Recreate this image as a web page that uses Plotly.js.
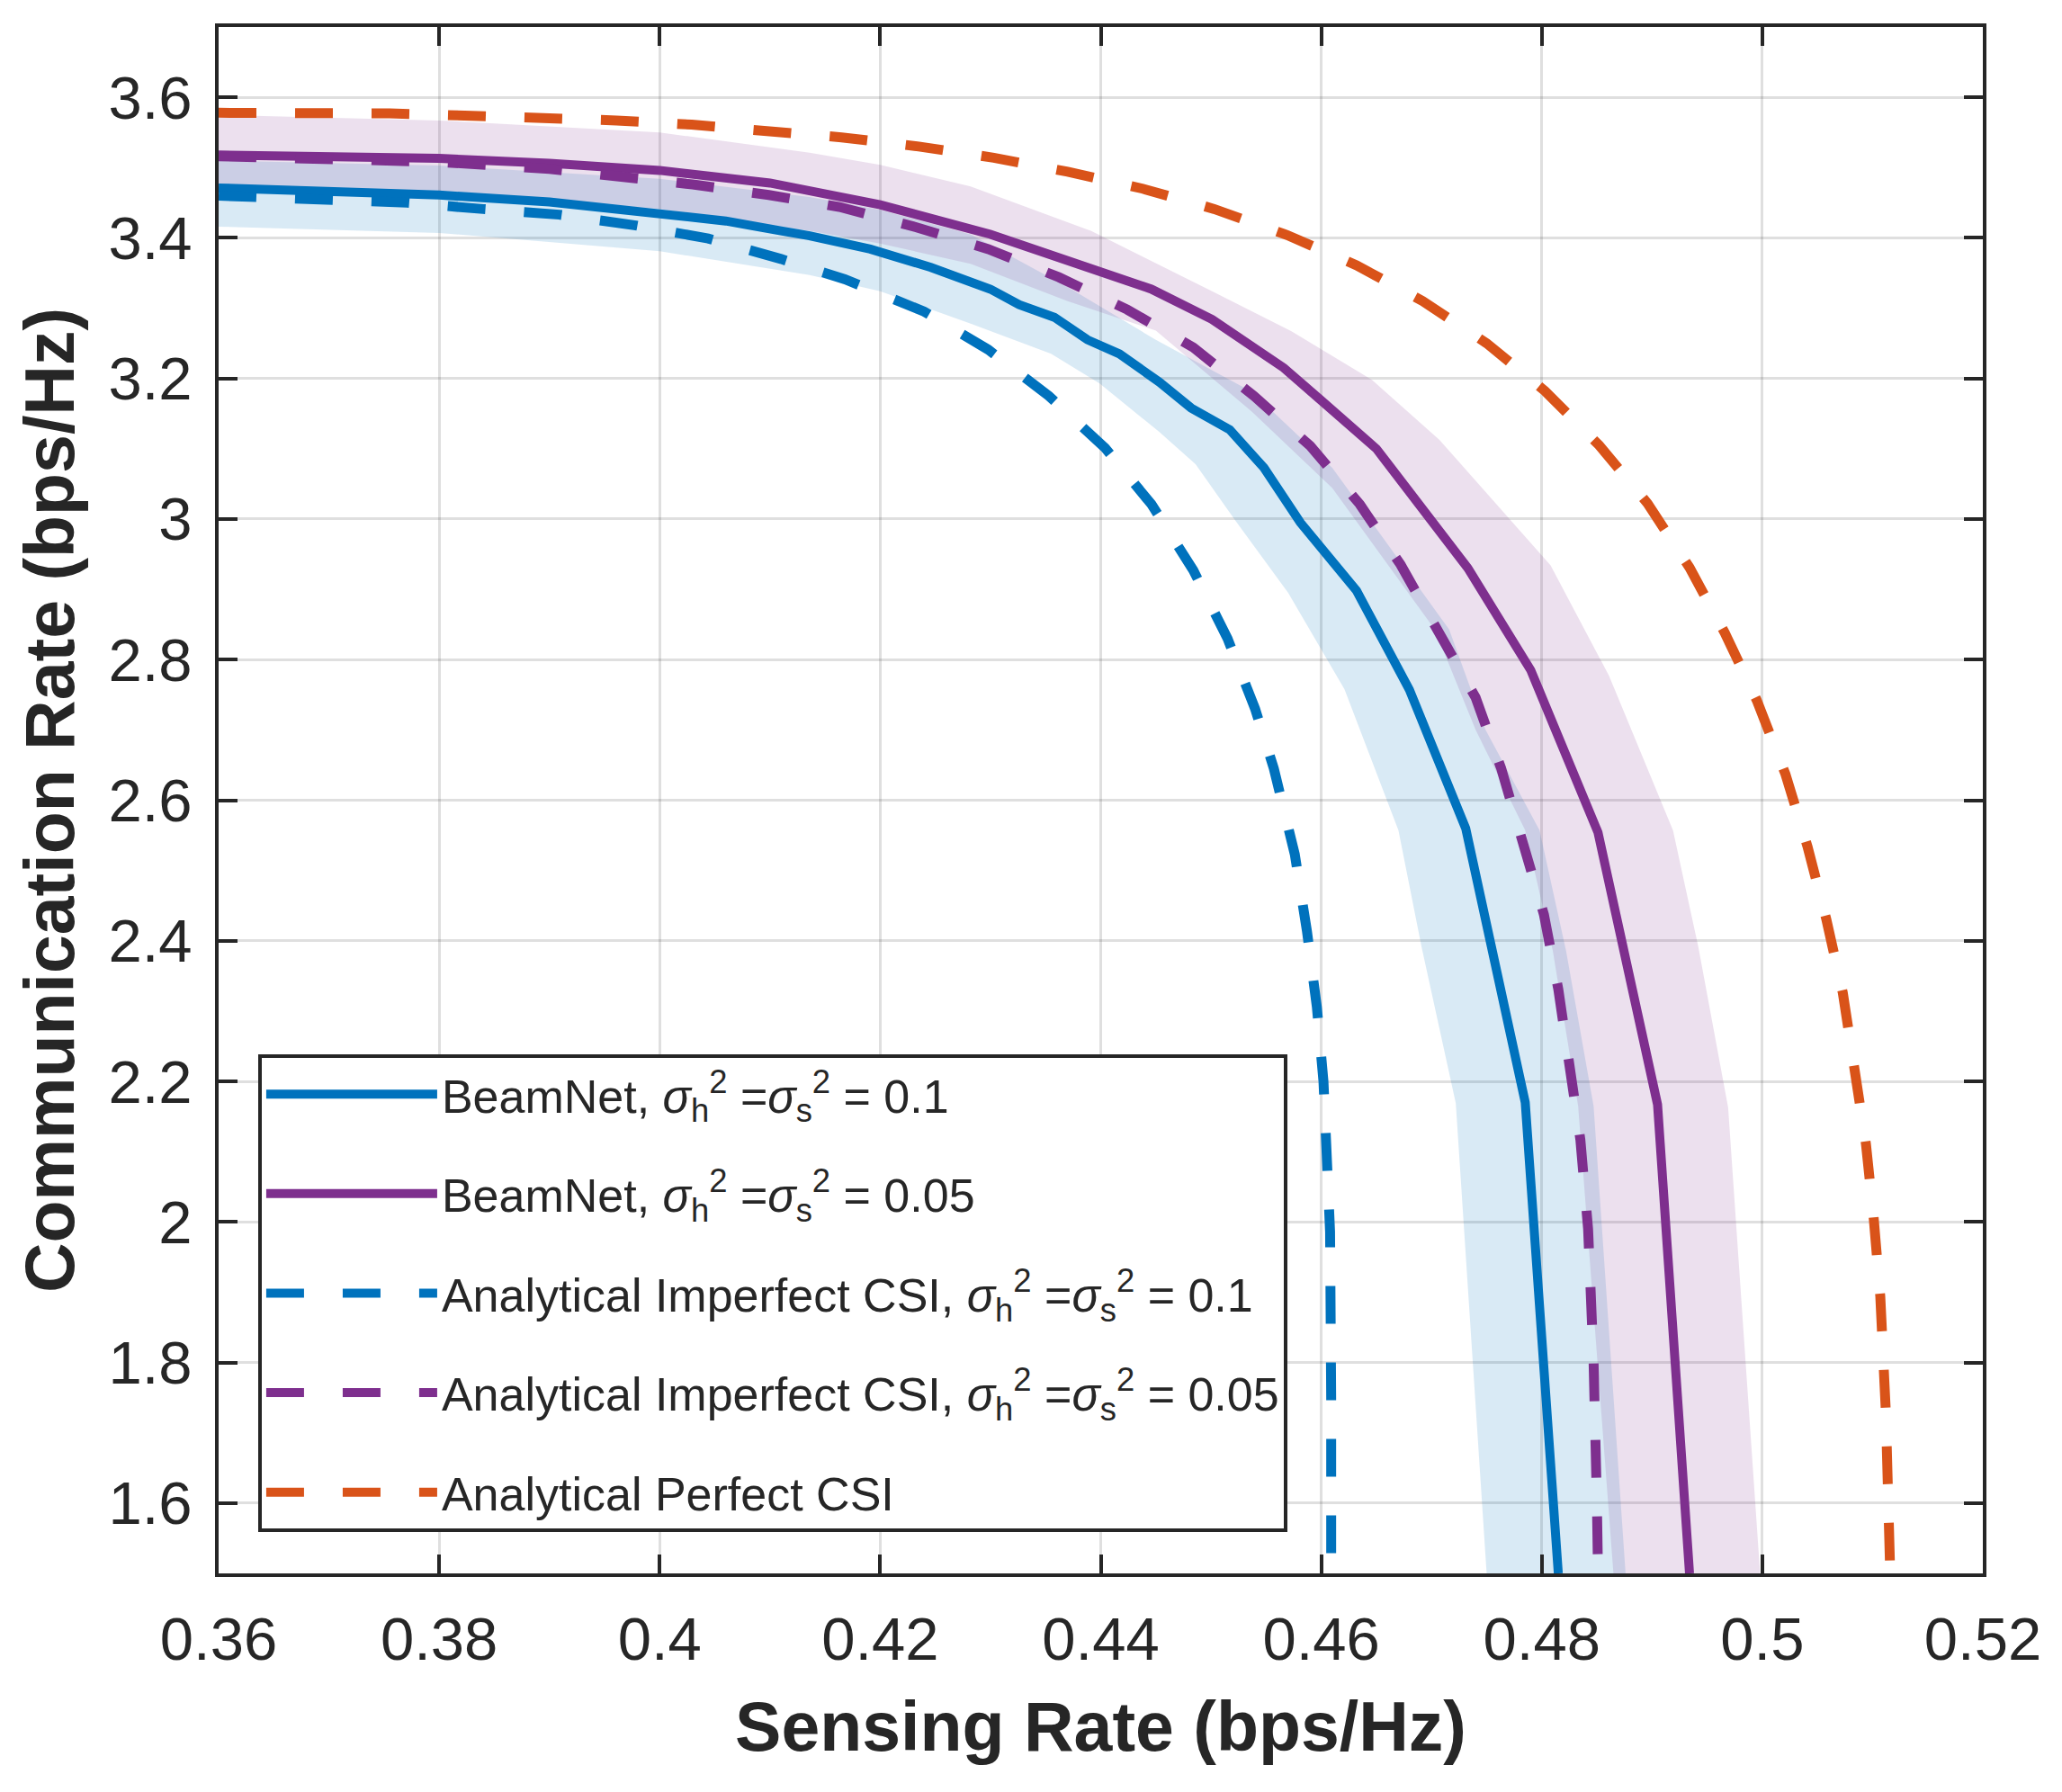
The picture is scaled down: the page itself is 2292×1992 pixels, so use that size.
<!DOCTYPE html>
<html>
<head>
<meta charset="utf-8">
<script src="https://cdn.plot.ly/plotly-3.0.1.min.js"></script>
<style>
  html, body { margin: 0; padding: 0; background: #ffffff; }
</style>
</head>
<body>
<div id="chart" style="width:2292px;height:1992px"></div>
<script>
// ticks
const xTickVals = [0.36, 0.38, 0.40, 0.42, 0.44, 0.46, 0.48, 0.50, 0.52];
const xTickText = ['0.36', '0.38', '0.4', '0.42', '0.44', '0.46', '0.48', '0.5', '0.52'];
const yTickVals = [1.6, 1.8, 2.0, 2.2, 2.4, 2.6, 2.8, 3.0, 3.2, 3.4, 3.6];
const yTickText = ['1.6', '1.8', '2', '2.2', '2.4', '2.6', '2.8', '3', '3.2', '3.4', '3.6'];

// legend names
const seriesNames = [
  'BeamNet, <i>σ</i><sub>h</sub><sup>2</sup> =<i>σ</i><sub>s</sub><sup>2</sup> = 0.1',
  'BeamNet, <i>σ</i><sub>h</sub><sup>2</sup> =<i>σ</i><sub>s</sub><sup>2</sup> = 0.05',
  'Analytical Imperfect CSI, <i>σ</i><sub>h</sub><sup>2</sup> =<i>σ</i><sub>s</sub><sup>2</sup> = 0.1',
  'Analytical Imperfect CSI, <i>σ</i><sub>h</sub><sup>2</sup> =<i>σ</i><sub>s</sub><sup>2</sup> = 0.05',
  'Analytical Perfect CSI'
];

// BeamNet, variance 0.1 (mean curve)
const beam01X = [0.360, 0.370, 0.380, 0.390, 0.400, 0.406, 0.411, 0.4136, 0.4191, 0.4246, 0.4300, 0.4326, 0.4358,
  0.4388, 0.4417, 0.4453, 0.4482, 0.4517, 0.4548, 0.4581, 0.4632, 0.4680, 0.4731, 0.4785, 0.4815];
const beam01Y = [3.471, 3.467, 3.461, 3.451, 3.436, 3.424, 3.410, 3.403, 3.384, 3.358, 3.327, 3.305, 3.287,
  3.255, 3.235, 3.195, 3.158, 3.127, 3.073, 2.995, 2.898, 2.757, 2.560, 2.170, 1.500];

// BeamNet, variance 0.1 (shaded band edges)
const band01LowX = [0.360, 0.380, 0.400, 0.4136, 0.420, 0.4282, 0.4355, 0.4399, 0.4453, 0.4486, 0.4522, 0.4570,
  0.4621, 0.4670, 0.4691, 0.4722, 0.4750];
const band01LowY = [3.416, 3.407, 3.381, 3.347, 3.324, 3.278, 3.235, 3.193, 3.124, 3.078, 2.998, 2.895,
  2.758, 2.557, 2.391, 2.169, 1.500];
const band01UpX = [0.360, 0.380, 0.400, 0.4136, 0.420, 0.4282, 0.4370, 0.4450, 0.4537, 0.4610, 0.4716, 0.4749,
  0.4798, 0.4822, 0.4847, 0.4876];
const band01UpY = [3.510, 3.503, 3.484, 3.458, 3.440, 3.405, 3.330, 3.255, 3.181, 3.073, 2.843, 2.700,
  2.557, 2.386, 2.165, 1.500];

// BeamNet, variance 0.05 (mean curve)
const beam005X = [0.360, 0.370, 0.380, 0.390, 0.400, 0.410, 0.4136, 0.4171, 0.420, 0.430, 0.4391, 0.4446, 0.4501,
  0.4566, 0.4599, 0.4650, 0.4733, 0.4790, 0.4851, 0.4905, 0.4934];
const beam005Y = [3.518, 3.517, 3.513, 3.506, 3.496, 3.478, 3.467, 3.457, 3.447, 3.405, 3.358, 3.327, 3.284,
  3.215, 3.170, 3.100, 2.930, 2.785, 2.554, 2.167, 1.500];

// BeamNet, variance 0.05 (shaded band edges)
const band005LowX = [0.360, 0.380, 0.400, 0.4136, 0.420, 0.4282, 0.4370, 0.4450, 0.4537, 0.4610, 0.4703, 0.4740,
  0.4785, 0.4810, 0.4833, 0.4865];
const band005LowY = [3.473, 3.467, 3.441, 3.410, 3.392, 3.363, 3.310, 3.268, 3.153, 3.044, 2.843, 2.700,
  2.557, 2.386, 2.165, 1.500];
const band005UpX = [0.360, 0.380, 0.400, 0.4136, 0.420, 0.4282, 0.4391, 0.4501, 0.4573, 0.4646, 0.4707, 0.4808,
  0.4861, 0.4919, 0.4942, 0.4969, 0.4998];
const band005UpY = [3.575, 3.567, 3.550, 3.521, 3.504, 3.473, 3.410, 3.324, 3.267, 3.198, 3.113, 2.934,
  2.777, 2.557, 2.391, 2.163, 1.500];

// Analytical, imperfect CSI, variance 0.1
const anaImp01X = [0.360, 0.3633, 0.3702, 0.3771, 0.3840, 0.3909, 0.3977, 0.4044, 0.4110, 0.4168, 0.4240, 0.4298,
  0.4353, 0.4404, 0.4446, 0.4484, 0.4515, 0.4540, 0.4557, 0.4576, 0.4587, 0.4596, 0.4602, 0.4606, 0.4608, 0.4609, 0.4609];
const anaImp01Y = [3.460, 3.458, 3.456, 3.450, 3.441, 3.433, 3.418, 3.399, 3.370, 3.341, 3.295, 3.241,
  3.175, 3.101, 3.021, 2.927, 2.830, 2.730, 2.645, 2.523, 2.414, 2.306, 2.200, 2.091, 1.986, 1.750, 1.500];

// Analytical, imperfect CSI, variance 0.05
const anaImp005X = [0.360, 0.370, 0.380, 0.390, 0.3964, 0.4030, 0.4099, 0.4163, 0.4233, 0.4298, 0.4362, 0.4424,
  0.4484, 0.4539, 0.4590, 0.4635, 0.4672, 0.4703, 0.4740, 0.4763, 0.4783, 0.4802, 0.4815, 0.4826, 0.4835,
  0.4842, 0.4847, 0.4850, 0.4851];
const anaImp005Y = [3.516, 3.513, 3.508, 3.498, 3.488, 3.476, 3.461, 3.444, 3.415, 3.384, 3.344, 3.298,
  3.244, 3.175, 3.104, 3.021, 2.935, 2.850, 2.746, 2.646, 2.540, 2.437, 2.331, 2.223, 2.117,
  1.990, 1.800, 1.600, 1.500];

// Analytical, perfect CSI
const anaPerfX = [0.360, 0.3686, 0.3755, 0.3823, 0.3891, 0.3961, 0.4029, 0.4098, 0.4165, 0.4235, 0.4303, 0.4370,
  0.4438, 0.4503, 0.4569, 0.4632, 0.4692, 0.4750, 0.4803, 0.4852, 0.4896, 0.4934, 0.4966, 0.4995, 0.5021,
  0.5041, 0.5058, 0.5073, 0.5084, 0.5094, 0.5101, 0.5107, 0.5112, 0.5115, 0.5116];
const anaPerfY = [3.578, 3.578, 3.577, 3.574, 3.571, 3.567, 3.561, 3.553, 3.543, 3.530, 3.514, 3.494,
  3.470, 3.441, 3.404, 3.361, 3.310, 3.250, 3.182, 3.105, 3.022, 2.931, 2.838, 2.742, 2.637,
  2.534, 2.431, 2.326, 2.220, 2.111, 2.006, 1.894, 1.731, 1.552, 1.500];

const BLUE = '#0072BD';
const PURPLE = '#7E2F8E';
const ORANGE = '#D95319';
const INK = '#262626';
const FONT = '"Liberation Sans", Arial, Helvetica, sans-serif';
const DASH = '42px,43px';

// closed polygon for a shaded band: lower edge out, upper edge back
function bandTrace(lowX, lowY, upX, upY, color) {
  return {
    x: lowX.concat(upX.slice().reverse()),
    y: lowY.concat(upY.slice().reverse()),
    mode: 'lines',
    fill: 'toself',
    fillcolor: color,
    line: { width: 0 },
    hoverinfo: 'skip',
    showlegend: false
  };
}

function lineTrace(x, y, name, color, width, dash, group) {
  return {
    x: x,
    y: y,
    mode: 'lines',
    name: name,
    legendgroup: group,
    line: { color: color, width: width, dash: dash }
  };
}

const traces = [
  bandTrace(band01LowX, band01LowY, band01UpX, band01UpY, 'rgba(0,114,189,0.15)'),
  bandTrace(band005LowX, band005LowY, band005UpX, band005UpY, 'rgba(126,47,142,0.15)'),
  lineTrace(beam01X, beam01Y, seriesNames[0], BLUE, 10, 'solid', 'g1'),
  lineTrace(beam005X, beam005Y, seriesNames[1], PURPLE, 10, 'solid', 'g2'),
  lineTrace(anaImp01X, anaImp01Y, seriesNames[2], BLUE, 11, DASH, 'g3'),
  lineTrace(anaImp005X, anaImp005Y, seriesNames[3], PURPLE, 11, DASH, 'g4'),
  lineTrace(anaPerfX, anaPerfY, seriesNames[4], ORANGE, 11, DASH, 'g5')
];

const axisCommon = {
  ticks: 'inside',
  ticklen: 21,
  tickwidth: 4,
  tickcolor: INK,
  showline: true,
  linewidth: 4,
  linecolor: INK,
  mirror: 'allticks',
  showgrid: true,
  gridcolor: 'rgba(38,38,38,0.15)',
  gridwidth: 3,
  zeroline: false,
  automargin: false,
  tickfont: { family: FONT, size: 67, color: INK }
};

const layout = {
  width: 2292,
  height: 1992,
  margin: { l: 243, r: 88, t: 30, b: 243, pad: 0 },
  paper_bgcolor: '#ffffff',
  plot_bgcolor: '#ffffff',
  font: { family: FONT, color: INK },
  showlegend: true,
  xaxis: Object.assign({}, axisCommon, {
    range: [0.36, 0.52],
    tickmode: 'array',
    tickvals: xTickVals,
    ticktext: xTickText,
    ticklabelstandoff: 12,
    title: {
      text: 'Sensing Rate (bps/Hz)',
      font: { family: FONT, size: 77, color: INK, weight: 'bold' },
      standoff: 35
    }
  }),
  yaxis: Object.assign({}, axisCommon, {
    range: [1.5, 3.7],
    tickmode: 'array',
    tickvals: yTickVals,
    ticktext: yTickText,
    ticklabelstandoff: 12,
    title: {
      text: 'Communication Rate (bps/Hz)',
      font: { family: FONT, size: 77, color: INK, weight: 'bold' },
      standoff: 14
    }
  }),
  legend: {
    x: 0.0224,
    y: 0.0268,
    xanchor: 'left',
    yanchor: 'bottom',
    bgcolor: '#ffffff',
    bordercolor: INK,
    borderwidth: 4,
    itemwidth: 190,
    tracegroupgap: 40,
    font: { family: FONT, size: 52, color: INK }
  }
};

Plotly.newPlot('chart', traces, layout, { displayModeBar: false, staticPlot: true });
</script>
</body>
</html>
